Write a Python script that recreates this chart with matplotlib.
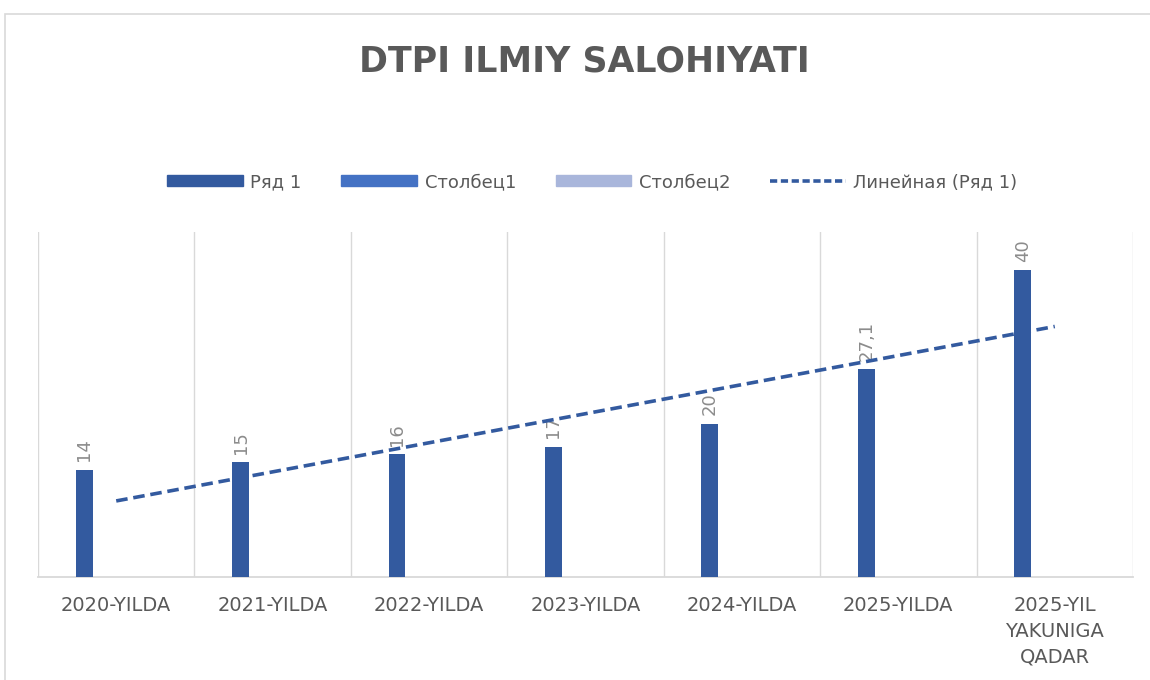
import numpy as np
import matplotlib.pyplot as plt
from matplotlib.patches import Rectangle, Patch
from matplotlib.lines import Line2D

categories = ["2020-YILDA", "2021-YILDA", "2022-YILDA", "2023-YILDA",
              "2024-YILDA", "2025-YILDA", "2025-YIL\nYAKUNIGA\nQADAR"]
values = [14, 15, 16, 17, 20, 27.1, 40]
value_labels = ["14", "15", "16", "17", "20", "27,1", "40"]
series_names = ["Ряд 1", "Столбец1", "Столбец2"]
trend_name = "Линейная (Ряд 1)"

c_bar = "#335A9F"
c_col1 = "#4472C4"
c_col2 = "#A9B6DB"
c_text = "#595959"
c_label = "#8C8C8C"
c_grid = "#D9D9D9"


def main():
    fig = plt.figure(figsize=(11.5, 6.8), dpi=100)
    ax = fig.add_axes([38 / 1150, 1 - 577 / 680, (1133 - 38) / 1150, (577 - 232) / 680])

    # outer chart frame
    fig.patches.append(Rectangle((5 / 1150, -0.1), 1.2, 1.1 - 14 / 680,
                                 transform=fig.transFigure, fill=False,
                                 edgecolor=c_grid, lw=1.2))

    x = np.arange(len(categories))
    bar_w = 0.107
    ax.bar(x - 0.205, values, width=bar_w, color=c_bar, zorder=3)

    for xi, v, lab in zip(x, values, value_labels):
        ax.annotate(lab, (xi - 0.205, v), xytext=(0, 6), textcoords="offset points",
                    rotation=90, ha="center", va="bottom", fontsize=13, color=c_label)

    # linear trend of the series
    k, b = np.polyfit(x + 1, values, 1)
    ax.plot(x, k * (x + 1) + b, ls=(0, (3.2, 1.6)), color=c_bar, lw=2.6, zorder=4)

    ax.set_xlim(-0.5, len(categories) - 0.5)
    ax.set_ylim(0, 45)
    ax.set_yticks([])
    ax.set_xticks(x)
    ax.set_xticklabels(categories, fontsize=14, color=c_text, linespacing=1.45)
    ax.tick_params(axis="x", length=0, pad=14)
    for gx in np.arange(-0.5, len(categories), 1.0):
        ax.axvline(gx, color=c_grid, lw=1, zorder=1)
    for s in ["top", "right", "left"]:
        ax.spines[s].set_visible(False)
    ax.spines["bottom"].set_color(c_grid)
    ax.spines["bottom"].set_linewidth(1.3)

    fig.text(0.508, 1 - 62 / 680, "DTPI ILMIY SALOHIYATI", ha="center", va="center",
             fontsize=25, fontweight="bold", color=c_text)

    handles = [Patch(color=c_bar), Patch(color=c_col1), Patch(color=c_col2),
               Line2D([0], [0], color=c_bar, lw=2.6, ls=(0, (2, 1)))]
    fig.legend(handles, series_names + [trend_name], loc="center",
               bbox_to_anchor=(0.515, 1 - 182 / 680), ncol=4, frameon=False,
               fontsize=13, labelcolor=c_text, handlelength=4.2, handleheight=0.55,
               columnspacing=2.2, handletextpad=0.4)

    fig.savefig("out.png", dpi=100)
    plt.close(fig)


if __name__ == "__main__":
    main()
